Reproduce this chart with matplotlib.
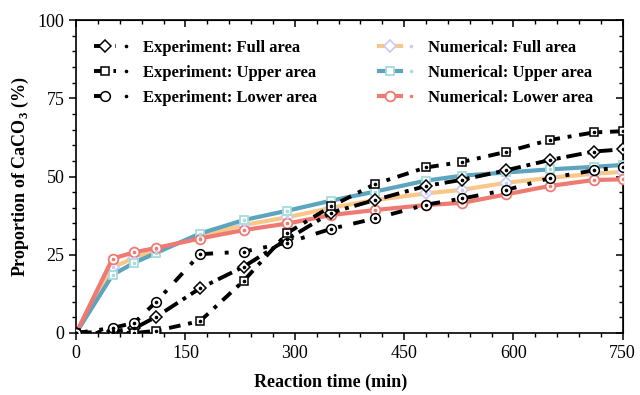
import numpy as np
import matplotlib
matplotlib.use('Agg')
import matplotlib.pyplot as plt
from matplotlib.legend_handler import HandlerTuple
from matplotlib.ticker import MultipleLocator

plt.rcParams['font.family'] = 'Liberation Serif'
plt.rcParams['mathtext.fontset'] = 'custom'
plt.rcParams['mathtext.rm'] = 'Liberation Serif:bold'
plt.rcParams['mathtext.bf'] = 'Liberation Serif:bold'

# 反应时间 (min)
time = [0, 50, 80, 110, 170, 230, 290, 350, 410, 480, 530, 590, 650, 710, 750]

# 实验数据
exp_full = [0, 0.5, 1.5, 5.2, 14.3, 21.2, 30.0, 38.5, 42.5, 47.0, 49.0, 52.0, 55.3, 58.0, 58.7]
exp_upper = [0, 0, 0, 0.7, 3.8, 16.7, 32.0, 40.5, 47.6, 52.9, 54.7, 57.9, 61.7, 64.1, 64.5]
exp_lower = [0, 1.6, 3.3, 10.0, 25.2, 26.0, 28.9, 33.3, 36.6, 41.0, 43.0, 45.7, 49.5, 52.0, 53.0]

# 数值模拟数据
num_full = [0, 21.0, 24.0, 26.5, 31.0, 34.5, 37.0, 40.0, 42.5, 44.6, 45.8, 48.0, 49.6, 50.9, 51.5]
num_upper = [0, 18.6, 22.5, 25.6, 31.8, 36.1, 39.1, 42.3, 45.2, 48.7, 50.3, 51.3, 52.3, 53.1, 53.7]
num_lower = [0, 23.8, 25.8, 27.2, 30.2, 32.9, 35.0, 37.7, 39.3, 40.9, 41.6, 44.3, 47.0, 48.9, 49.1]

labels_exp = ['Experiment: Full area', 'Experiment: Upper area', 'Experiment: Lower area']
labels_num = ['Numerical: Full area', 'Numerical: Upper area', 'Numerical: Lower area']

fig = plt.figure(figsize=(6.4, 3.95), dpi=100)
ax = fig.add_axes([0.119, 0.157, 0.854, 0.792])

# 数值模拟曲线
num_series = [num_full, num_upper, num_lower]
num_colors = ['#F9C888', '#5DA4BF', '#EF7A72']
num_mec = ['#CCCCF2', '#A6DCDC', '#EF7A72']
num_markers = ['D', 's', 'o']
num_ms = [6.5, 6, 7]
num_handles = []
for y, c, mec, m, ms in zip(num_series, num_colors, num_mec, num_markers, num_ms):
    l1, = ax.plot(time, y, color=c, lw=3, marker=m, ms=ms, mfc='white', mec=mec, mew=1.3, zorder=3)
    l2, = ax.plot(time, y, ls='none', marker='o', ms=1.6, color=mec, zorder=4)
    num_handles.append((l1, l2))

# 实验曲线
exp_series = [exp_full, exp_upper, exp_lower]
exp_dashes = [(4, 1.5, 1, 1.5), (3, 2, 1, 2), (3, 3, 1, 3)]
exp_markers = ['D', 's', 'o']
exp_ms = [6.5, 6, 7]
exp_handles = []
for y, d, m, ms in zip(exp_series, exp_dashes, exp_markers, exp_ms):
    l1, = ax.plot(time, y, color='black', lw=2.8, dashes=d, marker=m, ms=ms, mfc='white',
                  mec='black', mew=1.1, zorder=5)
    l2, = ax.plot(time, y, ls='none', marker='o', ms=1.6, color='black', zorder=6)
    exp_handles.append((l1, l2))

ax.legend(exp_handles + num_handles, labels_exp + labels_num, ncol=2, loc='upper left',
          bbox_to_anchor=(0.005, 0.985), frameon=False, handler_map={tuple: HandlerTuple(ndivide=None, pad=0)},
          prop={'family': 'Liberation Serif', 'weight': 'bold', 'size': 12},
          handlelength=2.6, columnspacing=3.7, labelspacing=0.55, handletextpad=0.35)

ax.set_xlim(0, 750)
ax.set_ylim(0, 100)
ax.set_xticks(np.arange(0, 751, 150))
ax.set_yticks(np.arange(0, 101, 25))
ax.xaxis.set_minor_locator(MultipleLocator(30))
ax.yaxis.set_minor_locator(MultipleLocator(5))
ax.tick_params(which='major', direction='out', length=5, width=1.1, labelsize=13)
ax.tick_params(which='minor', direction='out', length=3, width=1.0)
for sp in ax.spines.values():
    sp.set_linewidth(1.2)

# 上、右侧镜像刻度
top = ax.secondary_xaxis('top')
top.set_xticks(np.arange(0, 751, 150))
top.xaxis.set_minor_locator(MultipleLocator(30))
top.tick_params(which='major', direction='in', length=5, width=1.1, labeltop=False)
top.tick_params(which='minor', direction='in', length=3, width=1.0)
right = ax.secondary_yaxis('right')
right.set_yticks(np.arange(0, 101, 25))
right.yaxis.set_minor_locator(MultipleLocator(5))
right.tick_params(which='major', direction='in', length=5, width=1.1, labelright=False)
right.tick_params(which='minor', direction='in', length=3, width=1.0)

ax.set_xlabel('Reaction time (min)', fontsize=13, fontweight='bold')
ax.set_ylabel(r'Proportion of CaCO$_3$ (%)', fontsize=13, fontweight='bold')
ax.xaxis.set_label_coords(0.466, -0.13)
ax.yaxis.set_label_coords(-0.082, 0.5)

fig.savefig('out.png', dpi=100)
